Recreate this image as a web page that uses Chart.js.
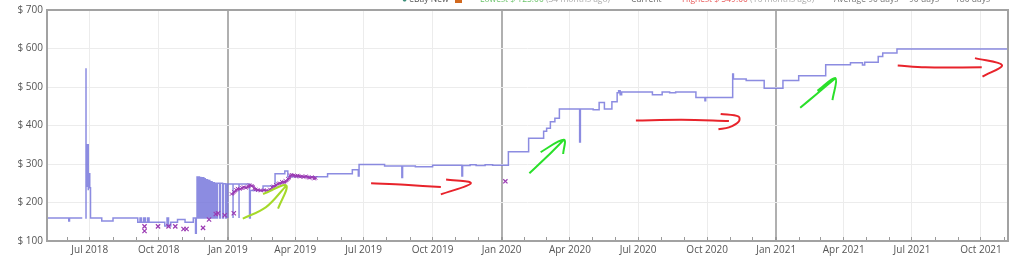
<!DOCTYPE html>
<html>
<head>
<meta charset="utf-8">
<script src="https://cdn.jsdelivr.net/npm/chart.js@4/dist/chart.umd.min.js"></script>
<style>
	html, body { margin: 0; background: #fff; }
</style>
</head>
<body>
<canvas id="myChart" width="1024" height="258"></canvas>
<script>
// "New" price history (stepped)
const newDates = [
	'2018-05-05', '2018-06-03', '2018-06-03', '2018-06-04', '2018-06-21', '2018-06-22',
	'2018-06-25', '2018-06-26', '2018-06-26', '2018-06-27', '2018-06-27', '2018-06-28', '2018-06-28', '2018-06-29', '2018-06-29', '2018-07-01', '2018-07-01', '2018-07-02',
	'2018-07-17', '2018-08-01', '2018-09-03', '2018-09-06', '2018-09-08', '2018-09-11', '2018-09-13', '2018-09-16', '2018-09-18',
	'2018-10-09', '2018-10-12', '2018-10-14', '2018-10-17', '2018-10-26', '2018-11-05', '2018-11-16', '2018-11-19', '2018-11-20',
	'2018-11-21', '2018-11-22', '2018-11-23', '2018-11-24', '2018-11-25', '2018-11-26', '2018-11-27', '2018-11-28', '2018-11-29', '2018-11-30',
	'2018-12-01', '2018-12-02', '2018-12-03', '2018-12-05', '2018-12-06', '2018-12-08', '2018-12-09', '2018-12-11', '2018-12-12', '2018-12-14',
	'2018-12-15', '2018-12-17', '2018-12-18', '2018-12-21', '2018-12-22', '2018-12-25', '2018-12-26', '2018-12-29', '2018-12-30',
	'2019-01-01', '2019-01-01', '2019-01-08', '2019-01-08', '2019-01-16', '2019-01-16', '2019-01-30', '2019-01-31',
	'2019-02-17', '2019-03-05', '2019-03-18', '2019-03-22', '2019-05-14', '2019-06-16', '2019-06-24', '2019-06-25',
	'2019-07-29', '2019-08-21', '2019-08-22', '2019-09-08', '2019-10-01', '2019-11-09', '2019-11-10', '2019-11-20', '2019-11-28', '2019-12-10', '2019-12-20',
	'2020-01-10', '2020-02-06', '2020-02-26', '2020-03-01', '2020-03-06', '2020-03-12', '2020-03-18', '2020-04-14', '2020-04-15',
	'2020-05-02', '2020-05-10', '2020-05-17', '2020-05-27', '2020-06-03', '2020-06-05', '2020-06-07', '2020-06-09',
	'2020-07-20', '2020-08-02', '2020-08-12', '2020-08-20', '2020-09-16', '2020-09-28', '2020-09-29',
	'2020-11-04', '2020-11-05', '2020-11-22', '2020-12-16', '2021-01-10', '2021-01-31', '2021-03-08',
	'2021-04-10', '2021-04-26', '2021-04-29', '2021-05-17', '2021-05-23', '2021-06-11', '2021-11-06',
]
const newPrices = [
	160, 160, 152, 160, 160, null,
	160, 549, 350, 250, 345, 240, 350, 232, 275, 275, 238, 160,
	152, 160, 149, 160, 149, 160, 149, 160, 149,
	139, 160, 139, 149, 156, 149, 160, 120, 160,
	266, 160, 266, 160, 265, 160, 264, 160, 264, 160,
	262, 160, 259, 160, 257, 160, 254, 160, 251, 160,
	250, 160, 250, 160, 250, 160, 249, 160, 248,
	160, 248, 160, 248, 160, 248, 160, 231,
	243, 275, 282, 267, 275, 285, 269, 299,
	295, 265, 295, 293, 297, 269, 296, 298, 296, 298, 297,
	332, 367, 385, 393, 410, 419, 443, 357, 443,
	441, 460, 443, 462, 485, 490, 480, 487,
	480, 487, 485, 487, 473, 464, 473,
	534, 521, 517, 497, 517, 529, 558,
	563, 557, 564, 579, 588, 599, 599,
]

// "Used" offers: isolated marks and the dense run in early 2019
const usedMarkDates = ['2018-09-12', '2018-09-12', '2018-09-30', '2018-10-14', '2018-10-23', '2018-11-03', '2018-11-07', '2018-11-29', '2018-12-07', '2018-12-16', '2018-12-19', '2018-12-28', '2019-01-09', '2020-01-06']
const usedMarkPrices = [138, 126, 138, 138, 138, 131, 131, 134, 156, 170, 172, 167, 172, 255]

const usedLineDates = [
	'2019-01-06', '2019-01-09', '2019-01-12', '2019-01-14', '2019-01-17', '2019-01-20', '2019-01-22', '2019-01-25', '2019-01-28', '2019-01-30',
	'2019-02-02', '2019-02-05', '2019-02-07', '2019-02-10', '2019-02-14', '2019-02-18', '2019-02-22', '2019-02-26', '2019-03-01', '2019-03-03',
	'2019-03-06', '2019-03-09', '2019-03-11', '2019-03-14', '2019-03-17', '2019-03-19', '2019-03-22', '2019-03-25', '2019-03-27', '2019-03-30',
	'2019-04-02', '2019-04-04', '2019-04-07', '2019-04-10', '2019-04-12', '2019-04-15', '2019-04-18', '2019-04-20', '2019-04-23', '2019-04-26', '2019-04-28',
]
const usedLinePrices = [
	222, 228, 233, 236, 235, 238, 240, 238, 242, 245,
	243, 236, 234, 232, 231, 232, 231, 234, 240, 242,
	246, 249, 250, 254, 252, 256, 262, 270, 272, 270,
	268, 270, 267, 268, 266, 268, 265, 264, 266, 262, 264,
]

// hand drawn arrows on top of the chart (null breaks a stroke)
const redArrowDates = [
	'2019-07-11', '2019-08-25', '2019-10-12', '2019-10-12', '2019-10-19', '2019-11-21', '2019-10-12', '2019-10-12',
	'2020-06-28', '2020-08-28', '2020-10-30', '2020-10-30', '2020-10-19', '2020-11-12', '2020-11-12', '2020-10-30', '2020-10-16', '2020-10-16',
	'2021-06-12', '2021-07-19', '2021-10-02', '2021-10-02', '2021-09-23', '2021-10-29', '2021-10-03',
]
const redArrowPrices = [
	250, 246, 240, null, 260, 250, 221, null,
	413, 415, 412, null, 430, 423, 410, 395, 390, null,
	556, 551, 551, null, 575, 557, 527,
]
const limeArrowDates = ['2019-01-21', '2019-02-21', '2019-03-20', '2019-03-20', '2019-02-17', '2019-03-20', '2019-03-09']
const limeArrowPrices = [158, 188, 244, null, 222, 244, 184]
const greenArrowDates = [
	'2020-02-07', '2020-03-02', '2020-03-24', '2020-03-24', '2020-02-22', '2020-03-24', '2020-03-23', '2020-03-23',
	'2021-02-02', '2021-02-24', '2021-03-21', '2021-03-21', '2021-02-25', '2021-03-21', '2021-03-17',
]
const greenArrowPrices = [276, 320, 363, null, 331, 363, 326, null, 446, 482, 523, null, 490, 523, 466]

const monthNames = ['Jan', 'Feb', 'Mar', 'Apr', 'May', 'Jun', 'Jul', 'Aug', 'Sep', 'Oct', 'Nov', 'Dec']
const labelMonths = [0, 3, 6, 9]
const priceTicks = [100, 200, 300, 400, 500, 600, 700]

// legend strip along the top edge (mostly cut off in the picture)
const headerGroups = [
	[402, [['● ', '#3d8f7a'], ['eBay New', '#555']]],
	[480, [['Lowest $ 125.00 ', '#6cc46c'], ['(34 months ago)', '#aaa']]],
	[631, [['Current', '#666']]],
	[682, [['Highest $ 549.00 ', '#e85a5a'], ['(16 months ago)', '#aaa']]],
	[834, [['Average 90 days', '#777']]],
	[909, [['90 days', '#777']]],
	[955, [['180 days', '#777']]],
]

const DAY0 = Date.UTC(2019, 0, 1)
const toDay = s => {
	const [y, m, d] = s.split('-').map(Number)
	return (Date.UTC(y, m - 1, d) - DAY0) / 864e5
}
const toPoints = (dates, prices) => dates.map((d, i) => ({ x: toDay(d), y: prices[i] }))

const xMin = toDay('2018-05-05')
const xMax = toDay('2021-11-06')

const monthTicks = []
for (let y = 2018; y <= 2021; y++) {
	for (let m = 0; m < 12; m++) {
		const v = (Date.UTC(y, m, 1) - DAY0) / 864e5
		if (v >= xMin && v <= xMax) monthTicks.push({ value: v, year: y, month: m })
	}
}
const monthAt = v => monthTicks.find(t => t.value === v)

const font = { family: "'Open Sans', sans-serif", size: 10 }

const frame = {
	id: 'frame',
	afterDraw(chart) {
		const { ctx, chartArea: a } = chart
		ctx.save()
		ctx.strokeStyle = '#a2a2a2'
		ctx.lineWidth = 2
		ctx.strokeRect(a.left, a.top, a.right - a.left, a.bottom - a.top)
		ctx.font = "8.5px 'Open Sans', sans-serif"
		ctx.textBaseline = 'alphabetic'
		headerGroups.forEach(([x, parts]) => {
			parts.forEach(([t, c]) => {
				ctx.fillStyle = c
				ctx.fillText(t, x, 2)
				x += ctx.measureText(t).width
			})
		})
		ctx.fillStyle = '#d2691e'
		ctx.fillRect(455, 0, 7, 3)
		ctx.restore()
	},
}

const ctx = document.getElementById('myChart')

new Chart(ctx, {
	type: 'line',
	data: {
		datasets: [
			{
				data: toPoints(redArrowDates, redArrowPrices),
				borderColor: '#e8232b',
				borderWidth: 2,
				pointRadius: 0,
				tension: 0.35,
			},
			{
				data: toPoints(limeArrowDates, limeArrowPrices),
				borderColor: '#a5d92a',
				borderWidth: 2,
				pointRadius: 0,
				tension: 0.35,
			},
			{
				data: toPoints(greenArrowDates, greenArrowPrices),
				borderColor: '#2ae02a',
				borderWidth: 2,
				pointRadius: 0,
				tension: 0.35,
			},
			{
				data: toPoints(usedMarkDates, usedMarkPrices),
				showLine: false,
				pointStyle: 'crossRot',
				pointRadius: 3,
				borderWidth: 1.2,
				borderColor: '#9b3bb3',
			},
			{
				data: toPoints(usedLineDates, usedLinePrices),
				stepped: true,
				borderColor: '#9b3bb3',
				borderWidth: 1.5,
				pointStyle: 'crossRot',
				pointRadius: 2.5,
				pointBorderWidth: 1,
			},
			{
				data: toPoints(newDates, newPrices),
				stepped: true,
				borderColor: 'rgba(120, 120, 220, 0.85)',
				borderWidth: 1.5,
				pointRadius: 0,
			},
		],
	},
	options: {
		responsive: false,
		animation: false,
		events: [],
		layout: { padding: { left: 0, right: 16, top: 7, bottom: 0 } },
		plugins: {
			legend: { display: false },
			tooltip: { enabled: false },
		},
		scales: {
			x: {
				type: 'linear',
				min: xMin,
				max: xMax,
				afterBuildTicks: s => { s.ticks = monthTicks.map(t => ({ value: t.value })) },
				afterFit: s => { s.height = 17 },
				border: { display: false },
				grid: {
					color: c => {
						const t = c.tick && monthAt(c.tick.value)
						if (!t) return 'transparent'
						if (t.month === 0) return '#b0b0b0'
						return labelMonths.includes(t.month) ? '#ececec' : 'transparent'
					},
					lineWidth: c => {
						const t = c.tick && monthAt(c.tick.value)
						return t && t.month === 0 ? 2 : 1
					},
					tickColor: '#9a9a9a',
					tickLength: -4,
				},
				ticks: {
					autoSkip: false,
					maxRotation: 0,
					minRotation: 0,
					padding: 7,
					color: '#555',
					font,
					callback: v => {
						const t = monthAt(v)
						return t && labelMonths.includes(t.month) ? monthNames[t.month] + ' ' + t.year : ''
					},
				},
			},
			y: {
				min: 100,
				max: 700,
				afterBuildTicks: s => { s.ticks = priceTicks.map(v => ({ value: v })) },
				afterFit: s => { s.width = 47 },
				border: { display: false },
				grid: { color: '#ececec', drawTicks: false },
				ticks: {
					padding: 4,
					color: '#555',
					font,
					callback: v => '$ ' + v,
				},
			},
		},
	},
	plugins: [frame],
})
</script>
</body>
</html>
